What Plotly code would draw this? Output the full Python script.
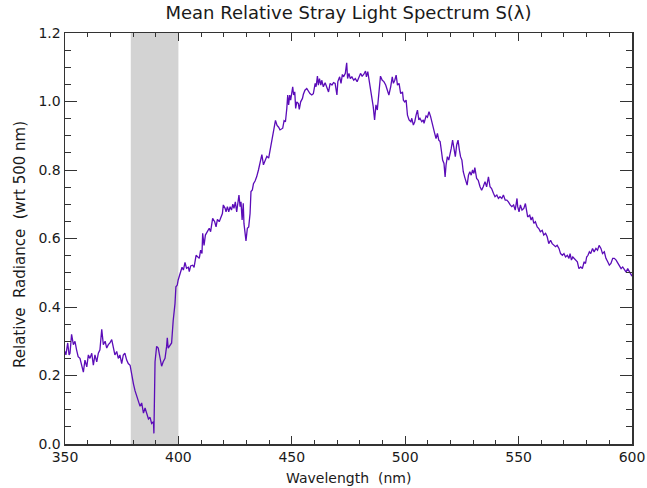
import plotly.graph_objects as go

# ---- data ----
wavelength = [
    350.0, 350.4, 351.2, 351.8, 352.2, 352.9, 353.7, 354.4, 355.1, 355.8,
    356.6, 357.3, 358.1, 358.8, 359.6, 360.3, 361.0, 361.8, 362.5, 363.2,
    364.0, 364.7, 365.4, 366.2, 366.9, 367.7, 368.4, 369.1, 369.8, 370.6,
    371.3, 372.0, 372.8, 373.5, 374.2, 375.0, 375.7, 376.4, 377.2, 377.9,
    378.7, 379.4, 380.2, 380.9, 381.6, 382.4, 383.1, 383.8, 384.6, 385.3,
    386.0, 386.8, 387.5, 388.2, 389.0, 389.2, 389.7, 390.4, 391.1, 391.9,
    392.6, 393.3, 394.1, 394.8, 395.1, 395.5, 396.3, 397.0, 397.7, 398.5,
    398.9, 399.5, 399.9, 400.4, 400.9, 401.6, 402.2, 402.9, 403.6, 404.4,
    404.8, 405.4, 406.3, 406.9, 407.8, 408.6, 409.2, 409.8, 410.4, 410.7,
    411.3, 411.9, 412.8, 413.6, 414.2, 415.1, 416.0, 416.6, 417.2, 418.0,
    418.6, 419.4, 419.8, 420.6, 421.0, 421.6, 422.2, 422.8, 423.4, 424.0,
    424.5, 425.1, 425.7, 426.3, 426.7, 427.2, 427.6, 428.1, 428.6, 428.9,
    429.5, 429.8, 430.4, 431.0, 431.6, 432.0, 432.6, 433.1, 433.8, 434.5,
    435.3, 436.0, 436.8, 437.5, 438.2, 439.0, 439.8, 440.5, 441.3, 442.0,
    442.8, 443.5, 444.2, 444.8, 446.0, 446.6, 447.2, 447.8, 448.2, 448.6,
    449.1, 449.5, 450.0, 450.4, 450.8, 451.3, 451.7, 452.2, 452.9, 453.3,
    453.9, 454.7, 455.1, 455.8, 456.6, 457.3, 458.0, 458.8, 459.5, 460.3,
    460.7, 461.3, 461.7, 462.2, 462.8, 463.2, 463.9, 464.7, 465.4, 466.2,
    466.9, 467.7, 468.4, 469.1, 469.9, 470.3, 471.1, 471.7, 472.3, 472.8,
    473.6, 474.2, 474.6, 475.2, 475.8, 476.5, 477.3, 478.0, 478.8, 479.5,
    480.3, 481.0, 481.7, 482.5, 482.9, 483.5, 484.1, 484.7, 485.4, 485.9,
    486.5, 487.1, 487.7, 488.4, 489.1, 489.9, 490.6, 491.4, 491.8, 492.4,
    492.8, 493.6, 494.3, 494.8, 495.4, 496.0, 496.6, 497.3, 498.0, 498.8,
    499.2, 499.8, 500.4, 501.0, 501.7, 502.5, 502.9, 503.6, 504.2, 504.8,
    505.4, 506.0, 506.5, 507.3, 508.0, 508.3, 509.2, 509.8, 510.5, 511.2,
    511.8, 512.4, 513.0, 513.6, 514.2, 514.8, 515.4, 516.0, 516.5, 517.1,
    517.6, 518.0, 518.6, 519.2, 519.8, 520.3, 520.9, 521.5, 522.1, 522.7,
    523.3, 523.9, 524.4, 525.0, 525.6, 526.2, 526.8, 527.3, 527.9, 528.5,
    529.1, 529.7, 530.3, 530.7, 531.5, 532.2, 533.0, 533.7, 534.4, 535.2,
    535.9, 536.7, 537.4, 538.1, 538.9, 539.6, 540.4, 541.1, 541.8, 542.6,
    543.3, 544.1, 544.8, 545.5, 546.3, 547.0, 547.8, 548.5, 549.3, 549.6,
    550.2, 550.8, 551.5, 552.3, 553.0, 553.5, 554.0, 554.9, 555.5, 556.1,
    556.7, 557.4, 558.2, 558.9, 559.6, 560.4, 561.1, 561.9, 562.6, 563.3,
    564.1, 564.8, 565.5, 566.3, 567.0, 567.8, 568.5, 569.3, 570.0, 570.7,
    571.5, 572.2, 572.7, 573.3, 573.9, 574.5, 575.2, 575.9, 576.6, 577.4,
    578.1, 578.9, 579.5, 580.0, 580.6, 581.2, 581.8, 582.6, 583.3, 584.1,
    584.8, 585.5, 586.3, 587.0, 587.8, 588.5, 589.3, 590.0, 590.7, 591.5,
    592.2, 593.0, 593.7, 594.4, 595.2, 595.9, 596.7, 597.4, 598.1, 598.9,
    599.6, 600.0,
]

radiance = [
    0.270, 0.260, 0.295, 0.260, 0.265, 0.320, 0.290, 0.300, 0.275, 0.255,
    0.250, 0.226, 0.210, 0.245, 0.225, 0.260, 0.250, 0.265, 0.230, 0.260,
    0.240, 0.265, 0.275, 0.335, 0.290, 0.300, 0.280, 0.290, 0.295, 0.305,
    0.280, 0.260, 0.270, 0.250, 0.260, 0.235, 0.260, 0.265, 0.245, 0.235,
    0.230, 0.200, 0.175, 0.155, 0.140, 0.130, 0.110, 0.120, 0.090, 0.105,
    0.087, 0.073, 0.078, 0.060, 0.065, 0.031, 0.240, 0.285, 0.280, 0.250,
    0.227, 0.240, 0.250, 0.285, 0.310, 0.280, 0.290, 0.295, 0.360, 0.410,
    0.459, 0.464, 0.479, 0.490, 0.503, 0.516, 0.508, 0.530, 0.513, 0.516,
    0.503, 0.520, 0.522, 0.516, 0.551, 0.546, 0.542, 0.566, 0.556, 0.615,
    0.580, 0.610, 0.620, 0.630, 0.620, 0.659, 0.649, 0.634, 0.656, 0.649,
    0.659, 0.673, 0.698, 0.688, 0.678, 0.693, 0.678, 0.693, 0.683, 0.700,
    0.688, 0.707, 0.678, 0.703, 0.727, 0.693, 0.707, 0.654, 0.703, 0.644,
    0.605, 0.593, 0.630, 0.634, 0.673, 0.737, 0.742, 0.760, 0.768, 0.780,
    0.800, 0.820, 0.845, 0.815, 0.830, 0.840, 0.835, 0.860, 0.880, 0.905,
    0.945, 0.930, 0.925, 0.917, 0.922, 0.944, 0.941, 0.980, 1.019, 0.990,
    1.019, 1.004, 1.035, 1.043, 1.019, 1.028, 0.980, 0.999, 0.994, 0.977,
    0.999, 1.009, 1.021, 1.033, 1.038, 1.028, 1.023, 1.019, 1.023, 1.053,
    1.043, 1.074, 1.048, 1.067, 1.048, 1.062, 1.043, 1.055, 1.043, 1.028,
    1.053, 1.048, 1.055, 1.053, 1.019, 1.058, 1.072, 1.053, 1.079, 1.072,
    1.082, 1.113, 1.067, 1.082, 1.067, 1.072, 1.062, 1.067, 1.058, 1.067,
    1.082, 1.074, 1.079, 1.089, 1.072, 1.087, 1.062, 1.038, 0.999, 0.985,
    0.946, 0.990, 0.975, 1.023, 1.074, 1.062, 1.058, 1.048, 1.038, 1.028,
    1.019, 1.043, 1.072, 1.053, 1.062, 1.077, 1.048, 1.053, 1.023, 1.028,
    1.004, 0.999, 1.004, 0.960, 0.946, 0.941, 0.951, 0.931, 0.941, 0.960,
    0.975, 0.946, 0.951, 0.941, 0.946, 0.936, 0.958, 0.954, 0.970, 0.956,
    0.936, 0.926, 0.907, 0.892, 0.907, 0.887, 0.883, 0.854, 0.829, 0.819,
    0.780, 0.814, 0.839, 0.829, 0.844, 0.863, 0.887, 0.858, 0.839, 0.873,
    0.887, 0.858, 0.839, 0.829, 0.795, 0.780, 0.766, 0.756, 0.785, 0.795,
    0.785, 0.800, 0.790, 0.807, 0.775, 0.770, 0.751, 0.741, 0.751, 0.766,
    0.751, 0.780, 0.751, 0.746, 0.732, 0.722, 0.727, 0.717, 0.722, 0.717,
    0.727, 0.712, 0.712, 0.707, 0.698, 0.693, 0.698, 0.683, 0.717, 0.693,
    0.678, 0.698, 0.683, 0.688, 0.702, 0.678, 0.663, 0.668, 0.654, 0.663,
    0.644, 0.649, 0.634, 0.629, 0.620, 0.624, 0.610, 0.615, 0.605, 0.585,
    0.595, 0.585, 0.580, 0.576, 0.580, 0.571, 0.556, 0.551, 0.556, 0.546,
    0.551, 0.542, 0.556, 0.537, 0.546, 0.542, 0.537, 0.532, 0.512, 0.517,
    0.512, 0.532, 0.527, 0.546, 0.551, 0.561, 0.556, 0.571, 0.561, 0.571,
    0.566, 0.580, 0.571, 0.556, 0.561, 0.542, 0.532, 0.522, 0.527, 0.542,
    0.542, 0.537, 0.529, 0.522, 0.512, 0.517, 0.507, 0.502, 0.512, 0.502,
    0.493, 0.490,
]

shade_range = [379, 400]
x_range = [350, 600]
y_range = [0.0, 1.2]

title_text = "Mean Relative Stray Light Spectrum S(\u03bb)"
x_title = "Wavelength\u00a0\u00a0(nm)"
y_title = "Relative\u00a0\u00a0Radiance\u00a0\u00a0(wrt 500 nm)"

FONT = "DejaVu Sans"
INK = "#1a1a1a"

fig = go.Figure()
fig.add_trace(go.Scatter(
    x=wavelength, y=radiance, mode="lines",
    line=dict(color="#5b0cb8", width=1.3),
    hoverinfo="skip", showlegend=False,
))

fig.add_shape(type="rect", xref="x", yref="y",
              x0=shade_range[0], x1=shade_range[1], y0=y_range[0], y1=y_range[1],
              fillcolor="#d3d3d3", line=dict(width=0), layer="below")

axis_common = dict(
    showline=True, linecolor="#333333", linewidth=1.5, mirror="allticks",
    ticks="inside", tickcolor="#333333", tickwidth=1,
    showgrid=False, zeroline=False, automargin=False,
    tickfont=dict(family=FONT, size=14, color=INK),
)

fig.update_xaxes(range=x_range, tick0=350, dtick=50, ticklen=8,
                 minor=dict(ticks="inside", dtick=10, ticklen=4, tickcolor="#333333", tickwidth=1),
                 **axis_common)
fig.update_yaxes(range=y_range, tick0=0, dtick=0.2, ticklen=12, tickformat=".1f",
                 minor=dict(ticks="inside", dtick=0.05, ticklen=6, tickcolor="#333333", tickwidth=1),
                 **axis_common)

W, H = 647, 488
L, R, T, B = 65, 15, 33, 44
pw, ph = W - L - R, H - T - B

fig.update_layout(
    width=W, height=H, autosize=False,
    margin=dict(l=L, r=R, t=T, b=B, pad=0),
    paper_bgcolor="white", plot_bgcolor="white",
    hovermode=False,
    title=dict(text=title_text, x=0.5, xref="paper", xanchor="center",
               y=1 - 13 / H, yref="container", yanchor="middle",
               font=dict(family=FONT, size=18, color=INK)),
    annotations=[
        dict(text=x_title, xref="paper", yref="paper", x=0.5, y=-(478 - (H - B)) / ph,
             xanchor="center", yanchor="middle", showarrow=False,
             font=dict(family=FONT, size=14, color=INK)),
        dict(text=y_title, xref="paper", yref="paper", x=(20 - L) / pw, y=((H - B) - 245) / ph,
             xanchor="center", yanchor="middle", showarrow=False, textangle=-90,
             font=dict(family=FONT, size=15, color=INK)),
    ],
)

fig.write_html(
    "out.html",
    config={"responsive": False, "displayModeBar": False, "staticPlot": True},
    post_script="document.body.style.margin='0';document.body.style.overflow='hidden';",
)
